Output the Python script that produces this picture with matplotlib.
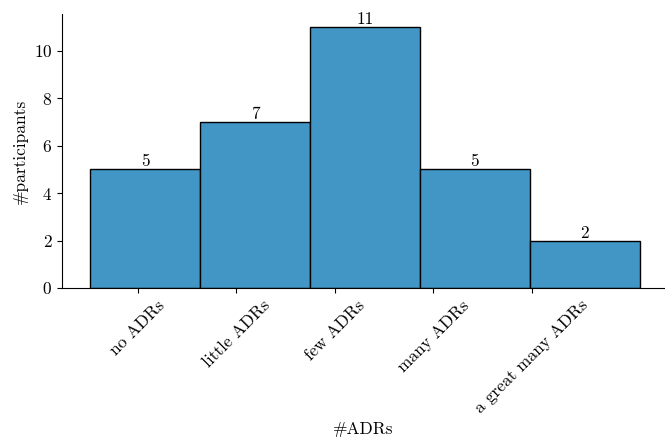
import numpy as np
import matplotlib
matplotlib.use('Agg')
from matplotlib import pyplot as plt

categories = ['no ADRs', 'little ADRs', 'few ADRs', 'many ADRs', 'a great many ADRs']
counts = [5, 7, 11, 5, 2]

plt.rcParams['font.family'] = ['cmr10', 'DejaVu Serif']
plt.rcParams['axes.formatter.use_mathtext'] = True
plt.rcParams['font.size'] = 12.5

fig = plt.figure(figsize=(6.65, 4.41), dpi=100)
ax = fig.add_axes([62/665, 1 - 288/441, 1 - 62/665, (288 - 14)/441])

x = np.arange(len(counts))
bars = ax.bar(x, counts, width=1.0, color='#4196c6', edgecolor='black', linewidth=1.0)
for b, c in zip(bars, counts):
    ax.text(b.get_x() + b.get_width()/2, c, str(c), ha='center', va='bottom')

# tick positions are offset from the bars in the original
ticks = -0.064 + 0.8955*x
ax.set_xticks(ticks)
ax.set_xticklabels(categories, rotation=45, ha='center')
ax.set_xlim(-0.755, 4.73)
ax.set_ylim(0, 11.55)
ax.set_yticks([0, 2, 4, 6, 8, 10])
ax.set_xlabel('#ADRs')
ax.set_ylabel('#participants')
ax.spines['top'].set_visible(False)
ax.spines['right'].set_visible(False)

fig.savefig('out.png', dpi=100)
